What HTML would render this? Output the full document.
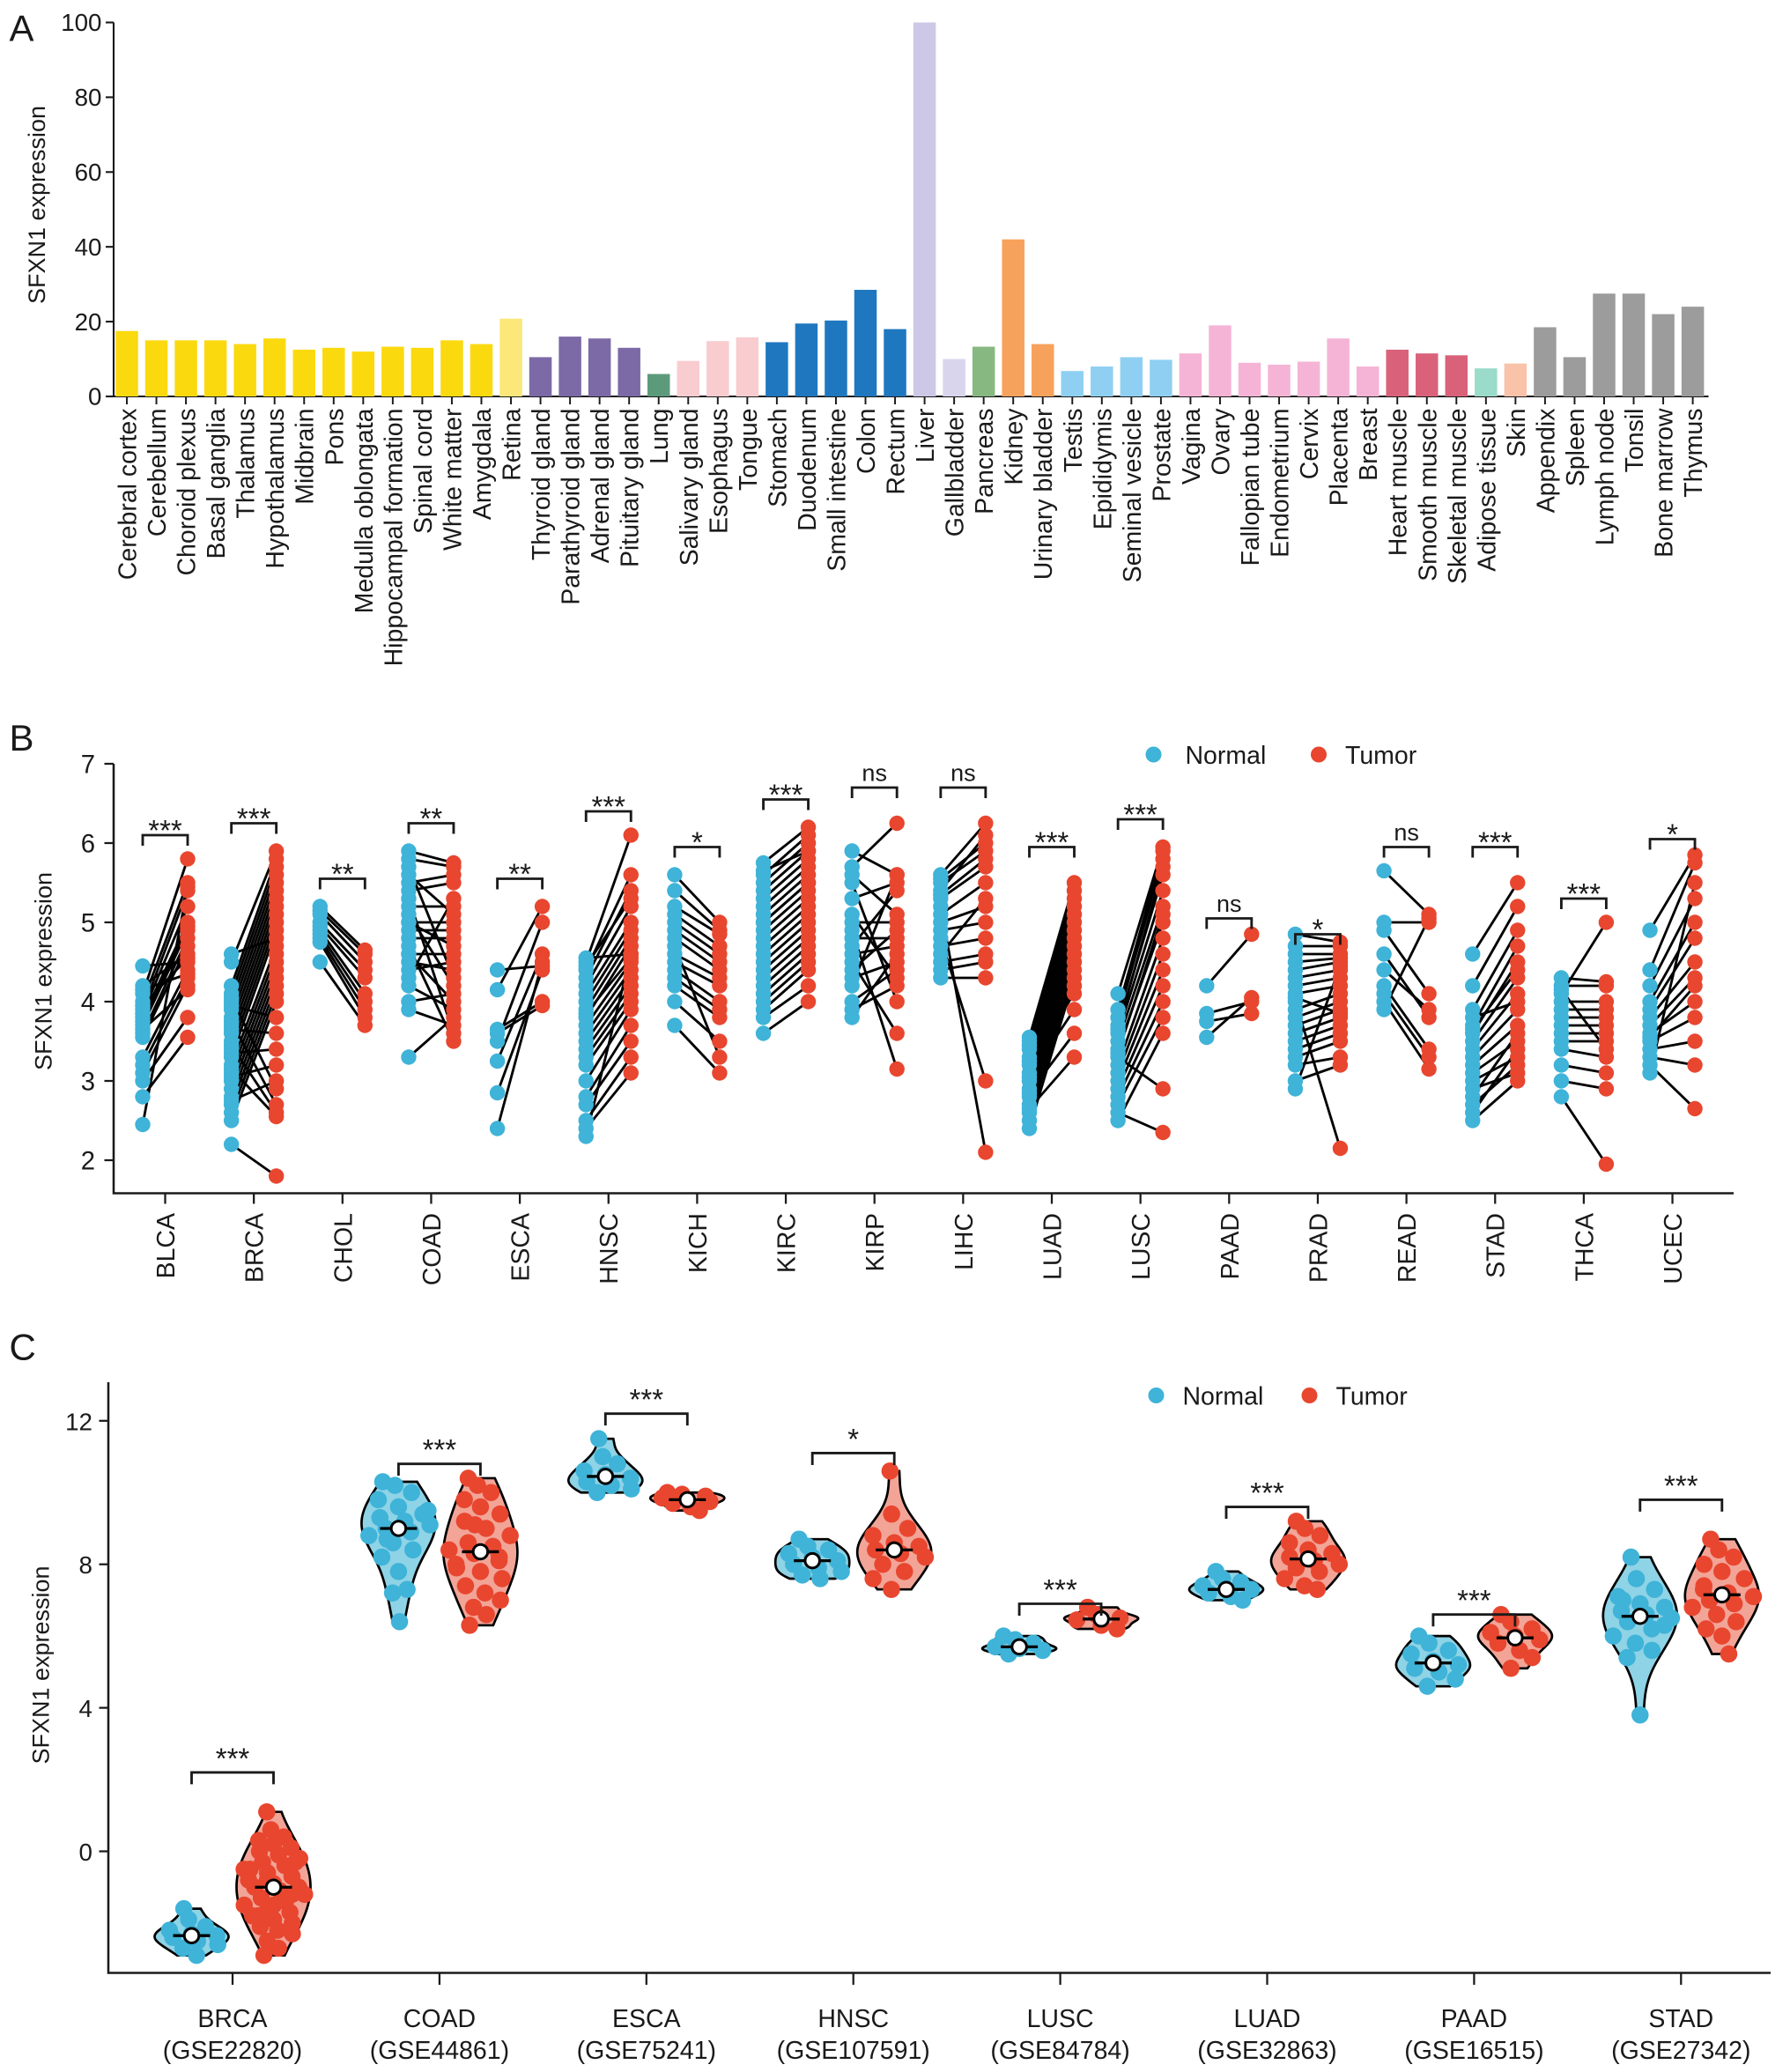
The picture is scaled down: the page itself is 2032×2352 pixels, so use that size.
<!DOCTYPE html>
<html><head><meta charset="utf-8">
<style>
html,body{margin:0;padding:0;background:#fff;}
svg{display:block;font-family:"Liberation Sans",Arial,sans-serif;}
</style></head>
<body>
<svg id="fig" width="2032" height="2352" viewBox="0 0 1354.67 1568" preserveAspectRatio="none" xmlns="http://www.w3.org/2000/svg"></svg>
<script>
// ---------- Panel A data ----------
const tissues = ["Cerebral cortex","Cerebellum","Choroid plexus","Basal ganglia","Thalamus","Hypothalamus","Midbrain","Pons","Medulla oblongata","Hippocampal formation","Spinal cord","White matter","Amygdala","Retina","Thyroid gland","Parathyroid gland","Adrenal gland","Pituitary gland","Lung","Salivary gland","Esophagus","Tongue","Stomach","Duodenum","Small intestine","Colon","Rectum","Liver","Gallbladder","Pancreas","Kidney","Urinary bladder","Testis","Epididymis","Seminal vesicle","Prostate","Vagina","Ovary","Fallopian tube","Endometrium","Cervix","Placenta","Breast","Heart muscle","Smooth muscle","Skeletal muscle","Adipose tissue","Skin","Appendix","Spleen","Lymph node","Tonsil","Bone marrow","Thymus"];
const tissueValues = [17.5,15,15,15,14,15.5,12.5,13,12,13.3,13,15,14,20.8,10.5,16,15.5,13,6,9.5,14.8,15.8,14.5,19.5,20.3,28.5,18,100,10,13.3,42,14,6.8,8,10.5,9.8,11.5,19,9,8.5,9.3,15.5,8,12.5,11.5,11,7.5,8.8,18.5,10.5,27.5,27.5,22,24];
const tissueColors = ["#fbd90f","#fbd90f","#fbd90f","#fbd90f","#fbd90f","#fbd90f","#fbd90f","#fbd90f","#fbd90f","#fbd90f","#fbd90f","#fbd90f","#fbd90f","#fbe77a","#7c6aa6","#7c6aa6","#7c6aa6","#7c6aa6","#5d9a7c","#f9cccf","#f9cccf","#f9cccf","#1f77c0","#1f77c0","#1f77c0","#1f77c0","#1f77c0","#cdc8e6","#d8d5ec","#88b882","#f7a25c","#f7a25c","#8fd0f2","#8fd0f2","#8fd0f2","#8fd0f2","#f5b4d6","#f5b4d6","#f5b4d6","#f5b4d6","#f5b4d6","#f5b4d6","#f5b4d6","#d9627a","#d9627a","#d9627a","#9adbc9","#f8c3a9","#9c9c9c","#9c9c9c","#9c9c9c","#9c9c9c","#9c9c9c","#9c9c9c"];
const aTicks = [0,20,40,60,80,100];

// ---------- Panel B data ----------
const bCats = ["BLCA","BRCA","CHOL","COAD","ESCA","HNSC","KICH","KIRC","KIRP","LIHC","LUAD","LUSC","PAAD","PRAD","READ","STAD","THCA","UCEC"];
const bNormal = [
[4.45,4.2,4.1,4.0,3.9,3.85,3.8,3.7,3.6,3.55,3.3,3.2,3.1,3.0,2.8,2.45,3.95,3.75,3.65,4.15],
[4.6,4.5,4.2,4.1,4.0,3.9,3.8,3.7,3.6,3.5,3.4,3.3,3.2,3.1,3.0,2.9,2.8,2.7,2.6,2.5,2.2,3.95,3.65,3.35,3.05,2.75,4.05,3.75,3.45,3.15],
[5.2,5.15,5.1,5.0,4.95,4.9,4.85,4.8,4.75,4.5],
[5.9,5.8,5.7,5.5,5.4,5.3,5.2,5.1,5.0,4.9,4.8,4.7,4.6,4.5,4.4,4.3,4.2,4.0,3.9,3.3,5.6,5.0,4.6],
[4.4,4.15,3.65,3.5,3.25,2.85,2.4,3.6],
[4.55,4.5,4.4,4.3,4.2,4.1,4.0,3.9,3.8,3.7,3.6,3.5,3.4,3.3,3.2,3.0,2.8,2.7,2.5,2.4,2.3,4.45,3.85],
[5.6,5.4,5.2,5.0,4.9,4.8,4.7,4.6,4.5,4.4,4.3,4.2,4.0,3.7,5.1],
[5.75,5.6,5.5,5.4,5.3,5.2,5.1,5.0,4.9,4.8,4.7,4.6,4.5,4.4,4.3,4.2,4.1,4.0,3.9,3.8,3.6,5.65,5.0],
[5.9,5.7,5.5,5.3,5.1,5.0,4.9,4.8,4.7,4.6,4.5,4.4,4.3,4.2,4.0,3.9,3.8,5.6],
[5.6,5.5,5.4,5.3,5.2,5.1,5.0,4.9,4.8,4.7,4.6,4.5,4.4,4.3,5.55,5.35],
[3.55,3.5,3.4,3.3,3.2,3.1,3.0,2.9,2.8,2.7,2.6,2.5,2.4,3.45,3.25,3.05,2.85,2.65],
[4.1,3.9,3.8,3.7,3.6,3.5,3.4,3.3,3.2,3.1,3.0,2.9,2.8,2.7,2.6,2.5,3.65,3.35],
[4.2,3.85,3.75,3.55],
[4.85,4.7,4.6,4.5,4.4,4.3,4.2,4.1,4.0,3.9,3.8,3.7,3.6,3.5,3.4,3.3,3.2,3.0,2.9,4.05],
[5.65,5.0,4.9,4.6,4.4,4.2,4.1,4.0,3.9],
[4.6,4.2,3.9,3.7,3.6,3.5,3.4,3.3,3.2,3.1,3.0,2.9,2.8,2.7,2.6,2.5,3.8,3.65],
[4.3,4.2,4.1,4.0,3.9,3.8,3.7,3.6,3.5,3.4,3.2,3.0,2.8,4.15],
[4.9,4.4,4.2,4.0,3.9,3.8,3.7,3.6,3.5,3.4,3.3,3.2,3.1,3.55]];
const bTumor = [
[4.5,4.6,5.8,5.5,5.4,5.2,5.0,4.9,4.8,4.7,4.4,4.3,4.2,3.8,3.55,5.45,4.55,4.95,4.15,4.35],
[4.8,5.9,5.8,5.7,5.6,5.5,5.4,5.3,5.2,5.1,5.0,4.9,4.7,4.6,4.5,4.4,4.3,4.2,4.1,4.0,1.8,3.8,3.6,3.4,3.2,3.0,2.9,2.7,2.6,2.55],
[4.65,4.6,4.5,4.4,4.3,4.1,4.0,3.9,3.8,3.7],
[5.75,5.7,4.3,5.6,5.5,3.6,5.2,4.2,5.0,4.9,4.8,3.5,4.6,4.4,4.5,5.3,3.9,4.1,3.7,3.8,5.1,4.7,4.0],
[4.45,5.2,4.0,5.0,4.6,4.4,4.5,3.95],
[4.6,6.1,5.6,5.4,5.2,5.0,4.9,4.8,4.7,4.5,4.4,4.3,4.2,4.1,4.0,3.9,3.7,3.5,3.3,3.1,4.6,5.3,4.55],
[5.0,4.9,4.85,4.6,4.5,4.4,3.3,4.3,4.2,4.0,3.9,3.8,3.5,3.1,4.7],
[6.2,6.1,6.0,5.9,5.8,5.7,5.6,5.5,5.4,5.3,5.2,5.1,5.0,4.9,4.8,4.7,4.6,4.5,4.4,4.2,4.0,5.9,5.5],
[5.6,6.25,4.0,5.5,4.3,5.0,3.15,4.8,5.4,4.7,3.6,4.9,4.5,5.6,4.4,4.2,4.6,5.1],
[6.25,5.9,6.1,5.7,2.1,5.5,5.2,5.0,3.0,4.8,5.3,4.6,4.5,4.3,6.0,5.8],
[5.5,5.4,5.3,5.2,5.1,5.0,4.9,4.8,4.7,4.6,4.5,4.4,4.3,4.2,4.1,3.9,3.6,3.3],
[5.95,5.9,5.8,5.6,5.4,5.2,5.0,2.9,4.8,4.6,4.4,4.2,4.0,3.8,2.35,3.6,5.7,5.1],
[4.85,4.0,3.85,4.05],
[4.75,4.7,4.6,4.55,4.5,4.4,4.3,4.2,2.15,4.1,4.0,3.9,3.8,3.7,3.6,3.5,3.3,3.2,4.45,3.85],
[5.1,5.0,4.1,3.8,3.9,3.4,3.3,3.15,5.05],
[5.5,5.2,4.9,4.7,4.5,4.3,4.1,3.9,3.7,3.5,3.3,3.1,3.6,3.2,3.4,3.0,4.0,4.4],
[4.25,4.2,5.0,4.0,3.9,3.8,3.7,3.6,3.5,3.3,3.1,2.9,1.95,3.4],
[5.85,5.75,5.3,5.0,4.8,4.5,4.3,4.0,3.8,3.5,3.2,2.65,5.5,4.2]];
const bSig = ["***","***","**","**","**","***","*","***","ns","ns","***","***","ns","*","ns","***","***","*"];
const bBracket = [6.1,6.25,5.55,6.25,5.55,6.4,5.95,6.55,6.7,6.7,5.95,6.3,5.05,4.85,5.95,5.95,5.3,6.05];
const bTicks = [2,3,4,5,6,7];

// ---------- Panel C data ----------
const cCats = ["BRCA","COAD","ESCA","HNSC","LUSC","LUAD","PAAD","STAD"];
const cGse = ["(GSE22820)","(GSE44861)","(GSE75241)","(GSE107591)","(GSE84784)","(GSE32863)","(GSE16515)","(GSE27342)"];
const cNormal = [
[-1.6,-1.9,-2.1,-2.2,-2.3,-2.35,-2.4,-2.5,-2.6,-2.7,-2.9],
[10.3,10.2,10.0,9.8,9.6,9.4,9.3,9.2,9.1,9.0,8.9,8.8,8.6,8.4,8.2,7.8,7.3,7.2,6.4,9.5,8.7],
[11.5,11.0,10.8,10.6,10.5,10.4,10.3,10.2,10.1,10.0],
[8.7,8.5,8.4,8.3,8.2,8.1,8.0,7.9,7.8,7.7,7.6],
[6.0,5.9,5.8,5.7,5.65,5.6,5.5],
[7.8,7.6,7.5,7.4,7.3,7.3,7.2,7.1,7.0],
[6.0,5.8,5.6,5.5,5.3,5.2,5.1,5.0,4.8,4.6],
[8.2,7.6,7.3,7.1,6.9,6.8,6.7,6.6,6.5,6.4,6.2,6.0,5.8,5.6,5.4,3.8,6.3,7.0]];
const cTumor = [
[1.1,0.6,0.4,0.3,0.2,0.1,0,-0.1,-0.2,-0.3,-0.4,-0.5,-0.6,-0.7,-0.8,-0.9,-1.0,-1.0,-1.1,-1.2,-1.3,-1.4,-1.5,-1.6,-1.7,-1.8,-1.9,-2.0,-2.1,-2.2,-2.3,-2.5,-2.7,-2.9,-0.8,-1.2,-0.5,-1.5,-0.3,-1.8],
[10.4,10.2,10.0,9.8,9.6,9.4,9.2,9.0,8.8,8.6,8.5,8.4,8.3,8.2,8.0,7.8,7.6,7.4,7.2,7.0,6.8,6.6,6.3,9.1,8.1,7.9],
[10.0,9.95,9.9,9.85,9.8,9.75,9.7,9.6,9.5],
[10.6,9.4,9.0,8.8,8.6,8.5,8.4,8.3,8.2,8.0,7.8,7.6,7.3],
[6.8,6.6,6.5,6.45,6.3,6.2],
[9.2,9.0,8.8,8.6,8.4,8.3,8.2,8.1,8.0,7.9,7.8,7.6,7.4,7.3],
[6.6,6.4,6.2,6.1,6.0,5.9,5.8,5.6,5.4,5.1],
[8.7,8.4,8.2,8.0,7.8,7.6,7.4,7.2,7.1,7.0,6.9,6.8,6.6,6.4,6.2,6.0,5.5,7.3]];
const cSig = ["***","***","***","*","***","***","***","***"];
const cBracket = [2.2,10.8,12.2,11.1,6.9,9.6,6.6,9.8];
const cTicks = [0,4,8,12];

// ---------- drawing ----------
const NS="http://www.w3.org/2000/svg";
const svg=document.getElementById('fig');
function mk(tag,attrs,parent){const e=document.createElementNS(NS,tag);for(const k in attrs)e.setAttribute(k,attrs[k]);(parent||svg).appendChild(e);return e;}
function txt(s,attrs,parent){const e=mk('text',attrs,parent);e.textContent=s;return e;}
const INK="#1a1a1a", NCOL="#3fb3d8", TCOL="#e8462f";

const la=txt("A",{x:7,y:31,"font-size":28,fill:INK});

const lb=txt("B",{x:7,y:568,"font-size":28,fill:INK});

const lc=txt("C",{x:7,y:1029,"font-size":28,fill:INK});


// ===== Panel A =====
(function(){
 const g=mk('g',{});
 
 const X0=86, Y0=300, Y100=17;
 const y=v=>Y0-(Y0-Y100)*v/100;
 const x=i=>96+i*22.36;
 const ax=mk('path',{d:`M${X0},${Y100} V${Y0} H1293`,stroke:INK,"stroke-width":1.4,fill:"none"},g);
 
 aTicks.forEach(t=>{
  mk('line',{x1:X0-6,x2:X0,y1:y(t),y2:y(t),stroke:INK,"stroke-width":1.4},g);
  const l=txt(t,{x:X0-9,y:y(t)+6.5,"font-size":18.5,"text-anchor":"end",fill:INK},g);
  
 });
 const yt=txt("SFXN1 expression",{transform:`translate(34,155) rotate(-90)`,"font-size":18,"text-anchor":"middle",fill:INK},g);
 
 tissues.forEach((n,i)=>{
  const r=mk('rect',{x:x(i)-8.5,y:y(tissueValues[i]),width:17,height:Y0-y(tissueValues[i]),fill:tissueColors[i]},g);
  
  mk('line',{x1:x(i),x2:x(i),y1:Y0,y2:Y0+6,stroke:INK,"stroke-width":1.3},g);
  const l=txt(n,{transform:`translate(${x(i)+7},${Y0+9}) rotate(-90)`,"font-size":19,"text-anchor":"end",fill:INK},g);
  
 });
})();

// ===== Panel B =====
(function(){
 const g=mk('g',{});
 
 const X0=86, XB=903;
 const y=v=>878-(v-2)*60;
 const cx=i=>125+i*67.1;
 const ax=mk('path',{d:`M${X0},${y(7)} V${XB} H1312`,stroke:INK,"stroke-width":1.7,fill:"none"},g);
 
 bTicks.forEach(t=>{
  mk('line',{x1:X0-7,x2:X0,y1:y(t),y2:y(t),stroke:INK,"stroke-width":1.5},g);
  const l=txt(t,{x:X0-14,y:y(t)+7,"font-size":19.5,"text-anchor":"end",fill:INK},g);
  
 });
 const yt=txt("SFXN1 expression",{transform:`translate(39,735) rotate(-90)`,"font-size":18,"text-anchor":"middle",fill:INK},g);
 
 bCats.forEach((c,i)=>{
  const xn=cx(i)-17, xt=cx(i)+17;
  const lg=mk('g',{stroke:"#000","stroke-width":1.9},g);
  
  bNormal[i].forEach((v,k)=>mk('line',{x1:xn,y1:y(v),x2:xt,y2:y(bTumor[i][k])},lg));
  bNormal[i].forEach(v=>{const d=mk('circle',{cx:xn,cy:y(v),r:5.8,fill:NCOL},g);
   });
  bTumor[i].forEach(v=>{const d=mk('circle',{cx:xt,cy:y(v),r:5.8,fill:TCOL},g);
   });
  const by=y(bBracket[i]);
  const br=mk('path',{d:`M${xn},${by+8} V${by} H${xt} V${by+8}`,stroke:INK,"stroke-width":1.9,fill:"none"},g);
  
  const s=txt(bSig[i],{x:cx(i),y:by-(bSig[i]=="ns"?5:-4),"font-size":bSig[i]=="ns"?18:22,"text-anchor":"middle",fill:INK},g);
  
  mk('line',{x1:cx(i),x2:cx(i),y1:XB,y2:XB+8,stroke:INK,"stroke-width":1.5},g);
  const l=txt(c,{transform:`translate(${cx(i)+7},${XB+15}) rotate(-90)`,"font-size":19,"text-anchor":"end",fill:INK},g);
  
 });
 const leg=mk('g',{},g);
 const d1=mk('circle',{cx:873,cy:571,r:6,fill:NCOL},leg);
 const t1=txt("Normal",{x:897,y:578,"font-size":19,fill:INK},leg);
 const d2=mk('circle',{cx:998,cy:571,r:6,fill:TCOL},leg);
 const t2=txt("Tumor",{x:1018,y:578,"font-size":19,fill:INK},leg);
})();

// ===== Panel C =====
(function(){
 const g=mk('g',{});
 
 const X0=82, XB=1493;
 const y=v=>1401-v*27.15;
 const cx=i=>176+i*156.6;
 const ax=mk('path',{d:`M${X0},1046 V${XB} H1340`,stroke:INK,"stroke-width":1.7,fill:"none"},g);
 
 cTicks.forEach(t=>{
  mk('line',{x1:X0-7,x2:X0,y1:y(t),y2:y(t),stroke:INK,"stroke-width":1.5},g);
  const l=txt(t,{x:X0-12,y:y(t)+7,"font-size":18.5,"text-anchor":"end",fill:INK},g);
  
 });
 const yt=txt("SFXN1 expression",{transform:`translate(37,1260) rotate(-90)`,"font-size":18,"text-anchor":"middle",fill:INK},g);
 
 function median(a){const s=[...a].sort((p,q)=>p-q);const m=s.length>>1;return s.length%2?s[m]:(s[m-1]+s[m])/2;}
 function violin(vals,xc,fillc,ptc,name){
  const lo=Math.min(...vals),hi=Math.max(...vals),rng=Math.max(hi-lo,0.3);
  const bw=rng/6;const N=40;const dens=[];
  for(let k=0;k<=N;k++){const v=lo+rng*k/N;let s=0;vals.forEach(u=>{s+=Math.exp(-0.5*((v-u)/bw)**2);});dens.push([v,s]);}
  const mx=Math.max(...dens.map(d=>d[1]));const W=28;
  let d="M"+dens.map(p=>`${xc+W*p[1]/mx},${y(p[0])}`).join(" L")+" L"+dens.slice().reverse().map(p=>`${xc-W*p[1]/mx},${y(p[0])}`).join(" L")+"Z";
  const vp=mk('path',{d:d,fill:fillc,stroke:"#000","stroke-width":1.8},g);
  
  vals.forEach((v,k)=>{
   let dd=0;vals.forEach(u=>{dd+=Math.exp(-0.5*((v-u)/bw)**2);});
   const off=(((k*37)%11)-5)/5*W*0.85*dd/mx;
   const c=mk('circle',{cx:xc+off,cy:y(v),r:6.5,fill:ptc},g);
   
  });
  const m=median(vals);
  mk('line',{x1:xc-14,x2:xc+14,y1:y(m),y2:y(m),stroke:"#000","stroke-width":2.2},g);
  const md=mk('circle',{cx:xc,cy:y(m),r:5.5,fill:"#fff",stroke:"#000","stroke-width":2},g);
  
 }
 cCats.forEach((c,i)=>{
  const xn=cx(i)-31, xt=cx(i)+31;
  violin(cNormal[i],xn,"#8fd3e6",NCOL,'normal-'+c.toLowerCase());
  violin(cTumor[i],xt,"#f2a497",TCOL,'tumor-'+c.toLowerCase());
  const by=y(cBracket[i]);
  const br=mk('path',{d:`M${xn},${by+9} V${by} H${xt} V${by+9}`,stroke:INK,"stroke-width":1.9,fill:"none"},g);
  
  const s=txt(cSig[i],{x:cx(i),y:by-3,"font-size":22,"text-anchor":"middle",fill:INK},g);
  
  mk('line',{x1:cx(i),x2:cx(i),y1:XB,y2:XB+9,stroke:INK,"stroke-width":1.5},g);
  const l1=txt(c,{x:cx(i),y:1534,"font-size":19,"text-anchor":"middle",fill:INK},g);
  
  const l2=txt(cGse[i],{x:cx(i),y:1558,"font-size":19,"text-anchor":"middle",fill:INK},g);
  
 });
 const leg=mk('g',{},g);
 const d1=mk('circle',{cx:875,cy:1056,r:6,fill:NCOL},leg);
 const t1=txt("Normal",{x:895,y:1063,"font-size":19,fill:INK},leg);
 const d2=mk('circle',{cx:991,cy:1056,r:6,fill:TCOL},leg);
 const t2=txt("Tumor",{x:1011,y:1063,"font-size":19,fill:INK},leg);
})();
</script>
</body></html>
